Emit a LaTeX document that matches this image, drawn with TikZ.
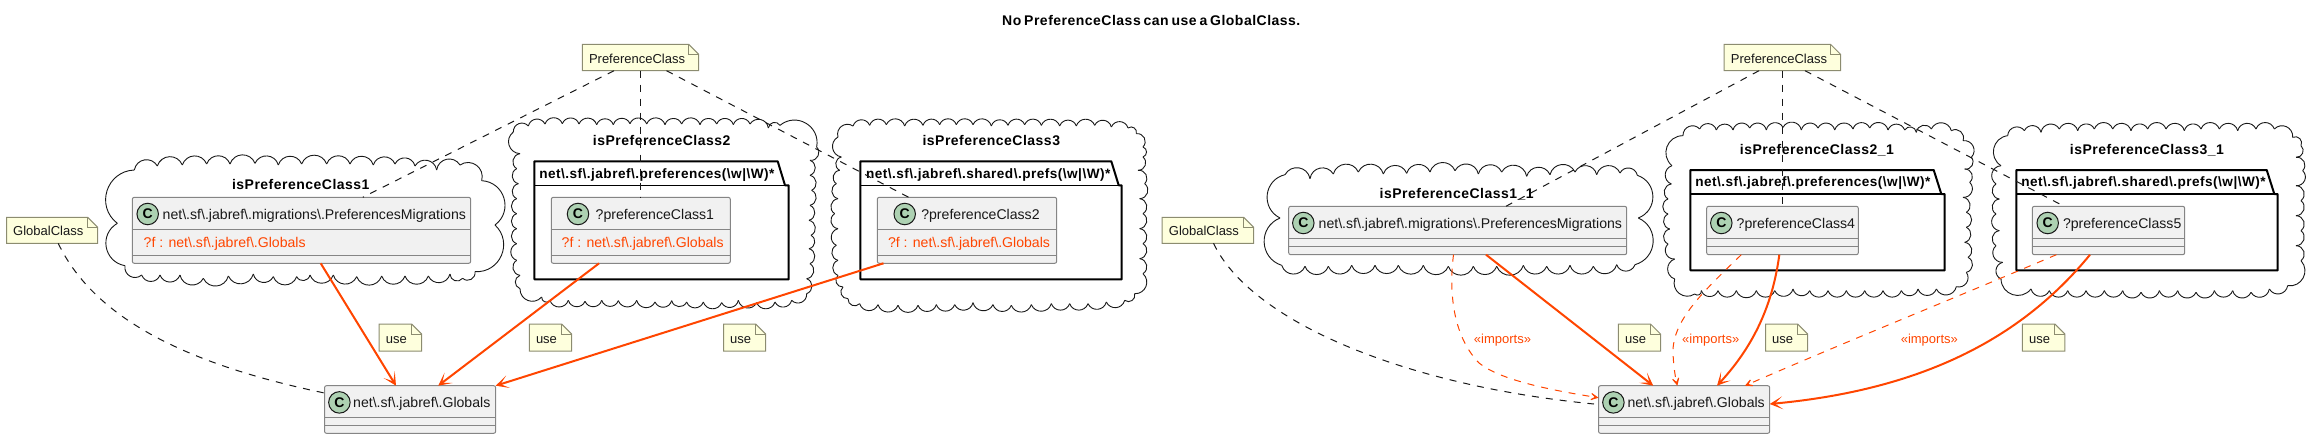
\documentclass[tikz,border=0pt]{standalone}
\usepackage{fontspec}
\setmainfont{Liberation Sans}[BoldFeatures={LetterSpace=3.5,WordSpace=0.65}]
\usetikzlibrary{calc,arrows.meta}
\definecolor{orng}{HTML}{FF4500}
\definecolor{clsfill}{HTML}{F1F1F1}
\definecolor{clsline}{HTML}{858585}
\definecolor{notefill}{HTML}{FEFFDD}
\definecolor{noteline}{HTML}{8C8C70}
\definecolor{icon}{HTML}{ADD1B2}
\definecolor{ink}{HTML}{181818}
\newcommand\bs{\textbackslash}
\newcommand\fclass{\fontsize{14.1}{16}\selectfont}
\newcommand\fnote{\fontsize{13}{15}\selectfont}
\newcommand\ftitle{\fontsize{14}{16}\selectfont\bfseries}
\newcommand\fpkg{\fontsize{13.6}{16}\selectfont\bfseries}
\tikzset{
  cloudline/.style={draw=ink,line width=0.9pt},
  clsbody/.style={draw=clsline,fill=clsfill,line width=1pt,rounded corners=2pt,anchor=north west,inner sep=0pt,outer sep=0pt},
  clssep/.style={draw=clsline,line width=1pt},
  clsicon/.style={circle,draw=ink,fill=icon,line width=1pt,minimum size=21.5pt,inner sep=0pt,font=\fontsize{14}{16}\selectfont\bfseries},
  txt/.style={anchor=base west,inner sep=0pt,outer sep=0pt,text=ink},
  ctxt/.style={anchor=base,inner sep=0pt,outer sep=0pt,text=black},
  notebody/.style={draw=noteline,fill=notefill,line width=1pt,line join=miter},
  noteanchor/.style={inner sep=0pt,outer sep=0pt,anchor=north west},
  pkgbody/.style={draw=black,fill=white,line width=2pt,line join=round},
  dashconn/.style={draw=ink,line width=1pt,dash pattern=on 7pt off 7pt},
  usearrow/.style={draw=orng,line width=2pt,-{Stealth[length=13pt,width=13pt,inset=8pt]}},
  imparrow/.style={draw=orng,line width=1pt,dash pattern=on 7pt off 7pt,-{Stealth[length=12pt,width=12pt,inset=8pt,line width=1pt]}},
}
% start x, y; then clockwise list of cusps in 3x local coordinates
\newcommand\cloudshape[5]{%
  \begin{scope}[shift={(#1,#2)},x=0.33333pt,y=-0.33333pt]
    \foreach \cx/\cy [remember=\cx as \lx (initially #3),remember=\cy as \ly (initially #4)] in {#5}{
      \draw[cloudline] (\lx,\ly) .. controls ($(\lx,\ly)!0.5!70:(\cx,\cy)$) and ($(\cx,\cy)!0.5!-70:(\lx,\ly)$) .. (\cx,\cy);
    }
  \end{scope}}
% name, x, y, width, height, icon x, text x, label
\newcommand\classbox[8]{%
  \node[clsbody,minimum width=#4pt,minimum height=#5pt] (#1) at (#2,#3) {};
  \draw[clssep] ($(#1.north west)+(0pt,-32pt)$) -- ($(#1.north east)+(0pt,-32pt)$);
  \draw[clssep] ($(#1.south west)+(0pt,8pt)$) -- ($(#1.south east)+(0pt,8pt)$);
  \node[clsicon] (#1i) at ($(#1.north west)+(#6-#2,16.7)$) {C};
  \node[txt,font=\fclass] (#1t) at ($(#1.north west)+(#7-#2,21.7)$) {#8};}
\newcommand\attr[4]{% owner, x, owner x, text
  \node[txt,font=\fclass,text=orng] (#1a) at ($(#1.north west)+(#2-#3,50.4)$) {#4};}
% name, x1, y1, x2, y2, text
\newcommand\notebox[6]{%
  \draw[notebody] (#2,#3) -- ({#4-10},#3) -- (#4,{#3+10}) -- (#4,#5) -- (#2,#5) -- cycle;
  \draw[notebody,fill=none] ({#4-10},#3) -- ({#4-10},{#3+10}) -- (#4,{#3+10});
  \node[noteanchor,minimum width={(#4-#2)*1pt},minimum height={(#5-#3)*1pt}] (#1) at (#2,#3) {};
  \node[txt,font=\fnote] (#1t) at ({#2+6.7},{#5-7.4}) {#6};}
% name, x1, y1, x2, y2, tab right top, tab right bottom, text x, text
\newcommand\pkgbox[9]{%
  \draw[pkgbody] (#2,{#3+24}) -- (#2,#3) -- (#6,#3) -- (#7,{#3+24}) -- (#4,{#3+24}) -- (#4,#5) -- (#2,#5) -- cycle;
  \draw[draw=black,line width=1.2pt] (#2,{#3+24}) -- (#7,{#3+24});
  \node[txt,font=\fpkg,text=black] (#1) at (#8,{#3+16.8}) {#9};}
\begin{document}
\begin{tikzpicture}[x=1pt,y=-1pt]
\useasboundingbox (0,0) rectangle (2315,439);
\node[ctxt,font=\ftitle] (title) at (1151.3,25) {No PreferenceClass can use a GlobalClass.};

% clouds
\cloudshape{100}{150}{75}{347}{52/220,103/60,172/48,247/45,320/42,390/42,465/40,535/45,605/42,680/42,750/42,820/45,885/42,945/48,1010/60,1080/45,1145/92,1185/225,1125/365,1088/385,1050/372,985/378,915/378,845/378,770/380,700/375,630/375,590/380,520/380,460/372,385/378,310/385,240/375,180/375,125/375,75/347}
\cloudshape{505}{112}{25}{60}{70/42,120/36,172/35,222/36,275/38,325/38,375/35,425/36,480/38,530/36,585/38,635/36,685/38,735/36,790/48,825/40,935/105,915/145,915/190,920/235,915/280,912/325,918/370,912/410,915/455,905/500,905/545,860/565,810/570,755/572,700/565,650/572,595/570,545/570,500/566,450/570,395/565,340/566,290/565,240/568,190/565,135/566,110/555,45/530,45/490,35/445,35/395,35/350,35/305,35/260,40/215,35/170,45/125,25/60}
\cloudshape{828}{112}{30}{75}{75/42,125/40,175/38,230/42,285/40,335/38,385/38,435/38,490/42,540/40,590/38,640/40,695/42,745/42,800/40,850/45,900/48,925/65,945/105,945/135,930/175,950/215,935/260,945/305,935/350,945/395,935/440,945/485,920/545,890/565,835/570,780/575,725/575,670/575,610/578,550/580,495/578,435/572,380/578,325/578,270/580,210/580,150/578,95/575,60/560,45/525,30/490,30/445,25/400,30/350,20/305,30/260,25/215,35/175,40/135,30/75}
\cloudshape{1260}{158}{60}{180}{75/50,150/62,220/48,295/42,370/48,440/46,510/42,585/38,655/48,725/42,800/55,870/50,945/42,1010/50,1080/45,1132/52,1135/180,1125/320,1070/320,1000/325,930/322,860/325,790/322,710/325,640/325,565/325,490/322,415/322,345/322,275/322,205/325,135/325,65/322,60/180}
\cloudshape{1658}{114}{42}{155}{75/65,125/45,175/48,225/48,275/42,325/48,375/40,430/48,480/42,530/48,585/45,635/42,690/48,740/48,775/55,820/45,880/50,915/80,940/130,920/165,935/205,915/250,925/295,925/340,920/385,930/430,925/475,895/518,835/525,780/525,730/530,675/530,620/530,565/530,510/530,455/530,405/525,350/530,295/530,235/530,180/530,130/530,110/540,50/495,50/435,30/390,35/345,30/300,30/255,40/210,42/155}
\cloudshape{1986}{114}{45}{155}{65/65,115/50,165/55,220/45,275/50,325/45,380/45,435/50,485/45,540/45,595/50,645/45,700/45,755/50,810/45,865/45,920/70,945/95,930/130,950/170,930/215,945/260,930/305,945/350,930/395,945/440,905/515,850/525,795/535,740/530,685/530,630/535,575/530,520/530,465/535,410/530,355/530,300/530,245/530,190/530,135/525,45/495,50/445,30/395,40/350,30/300,40/255,30/210,45/155}

% cloud titles
\node[ctxt,font=\ftitle] (tc1) at (300.8,189.3) {isPreferenceClass1};
\node[ctxt,font=\ftitle] (tc2) at (661.7,145.3) {isPreferenceClass2};
\node[ctxt,font=\ftitle] (tc3) at (991.3,145.3) {isPreferenceClass3};
\node[ctxt,font=\ftitle] (tc4) at (1456.7,198) {isPreferenceClass1\_1};
\node[ctxt,font=\ftitle] (tc5) at (1817,154) {isPreferenceClass2\_1};
\node[ctxt,font=\ftitle] (tc6) at (2147,154) {isPreferenceClass3\_1};

% packages
\pkgbox{pk2}{534.3}{161.3}{788.7}{279.3}{777.7}{785}{539.3}{net\bs.sf\bs.jabref\bs.preferences(\bs w|\bs W)*}
\pkgbox{pk3}{860.3}{161.3}{1121.7}{279.3}{1111.3}{1118.7}{866}{net\bs.sf\bs.jabref\bs.shared\bs.prefs(\bs w|\bs W)*}
\pkgbox{pk5}{1690.3}{170}{1944.7}{270.3}{1933.7}{1941.3}{1695.3}{net\bs.sf\bs.jabref\bs.preferences(\bs w|\bs W)*}
\pkgbox{pk6}{2016.3}{170}{2277.7}{270.3}{2266.7}{2274.3}{2021.3}{net\bs.sf\bs.jabref\bs.shared\bs.prefs(\bs w|\bs W)*}

% classes
\classbox{pma}{132.3}{197.3}{338.4}{66}{147.7}{162.7}{net\bs.sf\bs.jabref\bs.migrations\bs.PreferencesMigrations}
\attr{pma}{143.7}{132.3}{?f : net\bs.sf\bs.jabref\bs.Globals}
\classbox{pca}{551.3}{197.3}{179}{66}{578}{595.7}{?preferenceClass1}
\attr{pca}{561.7}{551.3}{?f : net\bs.sf\bs.jabref\bs.Globals}
\classbox{pcb}{877.3}{197.3}{179.4}{66}{904.7}{921.3}{?preferenceClass2}
\attr{pcb}{888}{877.3}{?f : net\bs.sf\bs.jabref\bs.Globals}
\classbox{gla}{324.5}{385.7}{171.2}{47.6}{339.4}{353.2}{net\bs.sf\bs.jabref\bs.Globals}
\classbox{pmb}{1288.7}{206.3}{338}{48.4}{1303.3}{1318.7}{net\bs.sf\bs.jabref\bs.migrations\bs.PreferencesMigrations}
\classbox{pcd}{1706.7}{206.3}{151.6}{48.4}{1721.3}{1736.7}{?preferenceClass4}
\classbox{pce}{2032.3}{206.3}{152.4}{48.4}{2047.7}{2063}{?preferenceClass5}
\classbox{glb}{1598.5}{385.7}{171.2}{47.6}{1613.4}{1627.6}{net\bs.sf\bs.jabref\bs.Globals}

% notes
\notebox{gca}{6.5}{217.3}{97.6}{243.3}{GlobalClass}
\notebox{gcb}{1162.2}{217.3}{1253.7}{243.3}{GlobalClass}
\notebox{pna}{582.3}{44.3}{698.6}{70.7}{PreferenceClass}
\notebox{pnb}{1724.2}{44.3}{1840.5}{70.7}{PreferenceClass}
\notebox{ua}{379.2}{324}{421.7}{351}{use}
\notebox{ub}{529.3}{324}{571.7}{351}{use}
\notebox{uc}{723.5}{324}{765.6}{351}{use}
\notebox{ud}{1618.4}{324}{1660.5}{351}{use}
\notebox{ue}{1765.5}{324}{1807.6}{351}{use}
\notebox{uf}{2022.3}{324}{2064.8}{351}{use}

% stereotype labels
\node[ctxt,font=\fnote,text=orng] (ia) at (1502.5,343.3) {«imports»};
\node[ctxt,font=\fnote,text=orng] (ib) at (1710.7,343.3) {«imports»};
\node[ctxt,font=\fnote,text=orng] (ic) at (1929.3,343.3) {«imports»};

% connectors, left group
\draw[dashconn] ([xshift=31.7pt]pna.south west) -- ([xshift=230.5pt]pma.north west);
\draw[dashconn] ([xshift=57.7pt]pna.south west) -- ([xshift=88.7pt]pca.north west);
\draw[dashconn] ([xshift=84.2pt]pna.south west) -- ([xshift=31.4pt]pcb.north west);
\draw[dashconn] ([xshift=51.7pt]gca.south west) .. controls (95,320) and (190,365) .. ([yshift=-7.3pt]gla.north west);
\draw[usearrow] ([xshift=188.4pt]pma.south west) -- ([xshift=71.5pt]gla.north west);
\draw[usearrow] ([xshift=47.8pt]pca.south west) -- ([xshift=113.7pt]gla.north west);
\draw[usearrow] ([xshift=6.2pt]pcb.south west) -- (gla.north east);

% connectors, right group
\draw[dashconn] ([xshift=34.8pt]pnb.south west) -- ([xshift=217.2pt]pmb.north west);
\draw[dashconn] ([xshift=58.2pt]pnb.south west) -- ([xshift=75.7pt]pcd.north west);
\draw[dashconn] ([xshift=80.8pt]pnb.south west) -- ([xshift=27.9pt,yshift=2pt]pce.north west);
\draw[dashconn] ([xshift=51.3pt]gcb.south west) .. controls (1250,320) and (1400,385) .. ([xshift=-4.5pt,yshift=-18.3pt]glb.north west);
\draw[imparrow] ([xshift=164.8pt]pmb.south west) .. controls (1449,290) and (1452,335) .. (1479,363) .. controls (1500,380) and (1550,390) .. ([yshift=-12pt]glb.north west);
\draw[usearrow] ([xshift=197.3pt]pmb.south west) -- ([xshift=54.7pt]glb.north west);
\draw[imparrow] ([xshift=34.6pt]pcd.south west) .. controls (1705,290) and (1672,320) .. (1673,353) .. controls (1673.5,365) and (1675,376) .. ([xshift=78.9pt]glb.north west);
\draw[usearrow] ([xshift=72.6pt]pcd.south west) .. controls (1772,310) and (1750,350) .. ([xshift=118.5pt]glb.north west);
\draw[imparrow] ([xshift=24.1pt]pce.south west) .. controls (1950,300) and (1850,340) .. ([xshift=146.4pt]glb.north west);
\draw[usearrow] ([xshift=57.7pt]pce.south west) .. controls (2020,340) and (1920,390) .. ([yshift=-18.3pt]glb.north east);
\end{tikzpicture}
\end{document}
